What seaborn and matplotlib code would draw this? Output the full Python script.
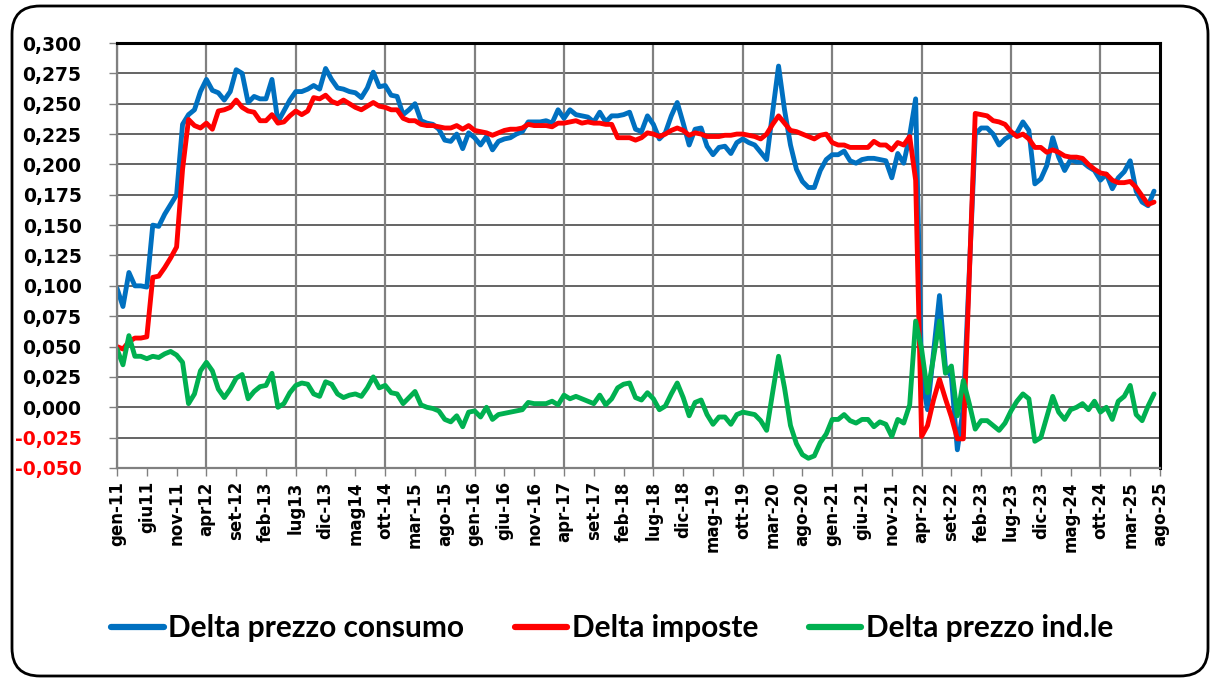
import numpy as np
import pandas as pd
import matplotlib
matplotlib.use("Agg")
import matplotlib.pyplot as plt
import seaborn as sns
from matplotlib.patches import FancyBboxPatch
from matplotlib.transforms import IdentityTransform

# ---------------- data ----------------
tick_labels = ["gen-11", "giu11", "nov-11", "apr12", "set-12", "feb-13", "lug13", "dic-13",
               "mag14", "ott-14", "mar-15", "ago-15", "gen-16", "giu-16", "nov-16", "apr-17",
               "set-17", "feb-18", "lug-18", "dic-18", "mag-19", "ott-19", "mar-20", "ago-20",
               "gen-21", "giu-21", "nov-21", "apr-22", "set-22", "feb-23", "lug-23", "dic-23",
               "mag-24", "ott-24", "mar-25", "ago-25"]
n_categories = 176  # gen-11 .. ago-25

delta_consumo = [
    0.098, 0.083, 0.111, 0.100, 0.100, 0.099, 0.150, 0.149, 0.159, 0.167,
    0.175, 0.233, 0.241, 0.245, 0.260, 0.270, 0.261, 0.259, 0.253, 0.260,
    0.278, 0.275, 0.251, 0.256, 0.254, 0.254, 0.270, 0.235, 0.244, 0.253,
    0.260, 0.260, 0.262, 0.265, 0.262, 0.279, 0.270, 0.263, 0.262, 0.260,
    0.259, 0.255, 0.263, 0.276, 0.264, 0.265, 0.257, 0.256, 0.241, 0.245,
    0.250, 0.236, 0.234, 0.233, 0.229, 0.220, 0.219, 0.225, 0.213, 0.226,
    0.222, 0.216, 0.223, 0.212, 0.219, 0.221, 0.222, 0.225, 0.227, 0.235,
    0.235, 0.235, 0.236, 0.234, 0.245, 0.238, 0.245, 0.241, 0.240, 0.239,
    0.235, 0.243, 0.235, 0.240, 0.240, 0.241, 0.243, 0.229, 0.227, 0.240,
    0.233, 0.221, 0.226, 0.240, 0.251, 0.234, 0.216, 0.229, 0.230, 0.215,
    0.208, 0.214, 0.215, 0.209, 0.218, 0.221, 0.218, 0.216, 0.210, 0.204,
    0.243, 0.281, 0.245, 0.216, 0.196, 0.186, 0.181, 0.181, 0.195, 0.204,
    0.208, 0.208, 0.211, 0.203, 0.201, 0.204, 0.205, 0.205, 0.204, 0.203,
    0.189, 0.209, 0.201, 0.224, 0.254, 0.025, -0.002, 0.045, 0.092, 0.033,
    0.025, -0.035, 0.000, 0.111, 0.225, 0.230, 0.230, 0.225, 0.216, 0.221,
    0.224, 0.226, 0.235, 0.228, 0.184, 0.188, 0.199, 0.222, 0.206, 0.195,
    0.204, 0.202, 0.202, 0.198, 0.195, 0.187, 0.192, 0.180, 0.189, 0.194,
    0.203, 0.178, 0.169, 0.166, 0.178]

delta_imposte = [
    0.050, 0.048, 0.054, 0.057, 0.057, 0.058, 0.107, 0.108, 0.115, 0.123,
    0.132, 0.196, 0.237, 0.232, 0.230, 0.234, 0.229, 0.244, 0.245, 0.247,
    0.253, 0.247, 0.244, 0.243, 0.236, 0.236, 0.241, 0.234, 0.235, 0.240,
    0.244, 0.241, 0.244, 0.255, 0.254, 0.257, 0.252, 0.250, 0.253, 0.250,
    0.247, 0.245, 0.248, 0.251, 0.248, 0.247, 0.245, 0.245, 0.238, 0.236,
    0.236, 0.233, 0.232, 0.232, 0.231, 0.230, 0.230, 0.232, 0.229, 0.232,
    0.228, 0.227, 0.226, 0.224, 0.226, 0.228, 0.229, 0.229, 0.230, 0.233,
    0.232, 0.232, 0.232, 0.231, 0.234, 0.234, 0.235, 0.236, 0.234, 0.235,
    0.234, 0.234, 0.233, 0.233, 0.222, 0.222, 0.222, 0.220, 0.222, 0.226,
    0.225, 0.223, 0.225, 0.228, 0.230, 0.228, 0.224, 0.226, 0.225, 0.223,
    0.223, 0.223, 0.224, 0.224, 0.225, 0.225, 0.224, 0.223, 0.221, 0.225,
    0.233, 0.240, 0.234, 0.228, 0.227, 0.225, 0.223, 0.221, 0.224, 0.225,
    0.218, 0.216, 0.216, 0.214, 0.214, 0.214, 0.214, 0.219, 0.216, 0.216,
    0.212, 0.218, 0.216, 0.223, 0.187, -0.024, -0.015, 0.006, 0.023, 0.007,
    -0.008, -0.026, -0.026, 0.108, 0.242, 0.241, 0.240, 0.236, 0.235, 0.233,
    0.227, 0.223, 0.225, 0.221, 0.214, 0.214, 0.210, 0.212, 0.210, 0.207,
    0.206, 0.206, 0.205, 0.200, 0.196, 0.193, 0.192, 0.187, 0.185, 0.185,
    0.186, 0.181, 0.174, 0.167, 0.169]

delta_industriale = [
    0.048, 0.035, 0.059, 0.042, 0.042, 0.040, 0.042, 0.041, 0.044, 0.046,
    0.043, 0.037, 0.003, 0.011, 0.030, 0.037, 0.030, 0.015, 0.008, 0.015,
    0.024, 0.027, 0.007, 0.013, 0.017, 0.018, 0.028, 0.000, 0.003, 0.012,
    0.018, 0.020, 0.019, 0.011, 0.009, 0.021, 0.019, 0.011, 0.008, 0.010,
    0.011, 0.009, 0.016, 0.025, 0.016, 0.018, 0.012, 0.011, 0.003, 0.008,
    0.013, 0.002, 0.000, -0.001, -0.003, -0.010, -0.012, -0.007, -0.016, -0.004,
    -0.003, -0.008, 0.000, -0.010, -0.006, -0.005, -0.004, -0.003, -0.002, 0.004,
    0.003, 0.003, 0.003, 0.005, 0.002, 0.010, 0.007, 0.009, 0.007, 0.005,
    0.003, 0.010, 0.002, 0.007, 0.016, 0.019, 0.020, 0.008, 0.006, 0.012,
    0.007, -0.002, 0.001, 0.011, 0.020, 0.008, -0.007, 0.004, 0.006, -0.006,
    -0.014, -0.008, -0.008, -0.014, -0.006, -0.004, -0.005, -0.006, -0.011, -0.019,
    0.012, 0.042, 0.016, -0.015, -0.030, -0.039, -0.042, -0.040, -0.029, -0.022,
    -0.010, -0.010, -0.006, -0.011, -0.013, -0.010, -0.010, -0.016, -0.012, -0.014,
    -0.024, -0.010, -0.013, 0.002, 0.071, 0.048, 0.012, 0.041, 0.071, 0.028,
    0.034, -0.007, 0.022, 0.003, -0.018, -0.011, -0.011, -0.015, -0.019, -0.013,
    -0.003, 0.005, 0.011, 0.007, -0.028, -0.025, -0.008, 0.009, -0.004, -0.010,
    -0.002, 0.000, 0.003, -0.002, 0.005, -0.004, 0.000, -0.010, 0.005, 0.009,
    0.018, -0.006, -0.011, 0.001, 0.011]

series_names = ["Delta prezzo consumo", "Delta imposte", "Delta prezzo ind.le"]
series_colors = ["#0070C0", "#FF0000", "#00B050"]

# ---------------- build long table ----------------
frames = []
for name, vals in zip(series_names, [delta_consumo, delta_imposte, delta_industriale]):
    frames.append(pd.DataFrame({"mese": np.arange(len(vals)), "valore": vals, "serie": name}))
df = pd.concat(frames, ignore_index=True)

# ---------------- figure ----------------
sns.set_style("white")
plt.rcParams["font.family"] = ["DejaVu Sans"]
plt.rcParams["text.color"] = "black"
plt.rcParams["xtick.labelcolor"] = "black"
plt.rcParams["ytick.labelcolor"] = "black"

W, H = 1210, 678
fig = plt.figure(figsize=(W / 100, H / 100), dpi=100)
fig.patch.set_facecolor("white")

ax = fig.add_axes([117 / W, 1 - 468 / H, (1160 - 117) / W, (468 - 43) / H])

sns.lineplot(data=df, x="mese", y="valore", hue="serie", hue_order=series_names,
             palette=series_colors, linewidth=3.5, ax=ax, legend=True,
             solid_capstyle="round", solid_joinstyle="round", zorder=3)

ax.set_xlim(0, n_categories - 1)
ax.set_ylim(-0.05, 0.30)
ax.set_xlabel("")
ax.set_ylabel("")

# y axis
yt = np.round(np.arange(-0.05, 0.3001, 0.025), 3)
ax.set_yticks(yt)
ax.set_yticklabels([f"{v:.3f}".replace(".", ",") if v != 0 else "0,000" for v in yt])
for lab, v in zip(ax.get_yticklabels(), yt):
    lab.set_fontweight("bold")
    lab.set_fontsize(13.5)
    lab.set_color("#FF0000" if v < 0 else "black")

# x axis
xt = np.arange(0, n_categories, 5)
ax.set_xticks(xt)
ax.set_xticklabels(tick_labels, rotation=90, fontsize=12, fontweight="bold", color="black")
for lab in ax.get_xticklabels():
    lab.set_va("top")
    lab.set_ha("center")

ax.tick_params(axis="y", which="major", direction="out", length=5.5, width=1.0,
               color="#808080", pad=20, left=True)
ax.tick_params(axis="x", which="major", direction="out", length=5.5, width=1.0,
               color="#808080", pad=4, bottom=True)

# grid: horizontal every 0.025, vertical every 15 months
for v in yt:
    ax.axhline(v, color="#4a4a4a", linewidth=1.2, zorder=1)
for xv in np.arange(0, n_categories, 15):
    ax.axvline(xv, color="#808080", linewidth=1.6, zorder=1)

for side in ["left", "bottom"]:
    ax.spines[side].set_color("#808080")
    ax.spines[side].set_linewidth(1.6)
for side in ["top", "right"]:
    ax.spines[side].set_color("black")
    ax.spines[side].set_linewidth(2.2)
for s in ax.spines.values():
    s.set_zorder(4)

# legend at the bottom
handles, labels = ax.get_legend_handles_labels()
ax.get_legend().remove()
leg = fig.legend(handles, labels, loc="center", bbox_to_anchor=(0.506, 1 - 628 / H), ncol=3,
                 frameon=False, handlelength=1.75, handletextpad=0.15, columnspacing=1.7,
                 prop={"family": ["Lato", "DejaVu Sans"], "weight": "bold", "size": 21.5})
for line in leg.get_lines():
    line.set_linewidth(4.5)
    line.set_solid_capstyle("round")
for t in leg.get_texts():
    t.set_color("black")

# outer rounded frame
frame = FancyBboxPatch((12, 2), 1196, 670, boxstyle="round,pad=0,rounding_size=28",
                       transform=IdentityTransform(), fill=False, edgecolor="black",
                       linewidth=2.0, zorder=10)
fig.add_artist(frame)

fig.savefig("out.png", dpi=100, facecolor="white")
